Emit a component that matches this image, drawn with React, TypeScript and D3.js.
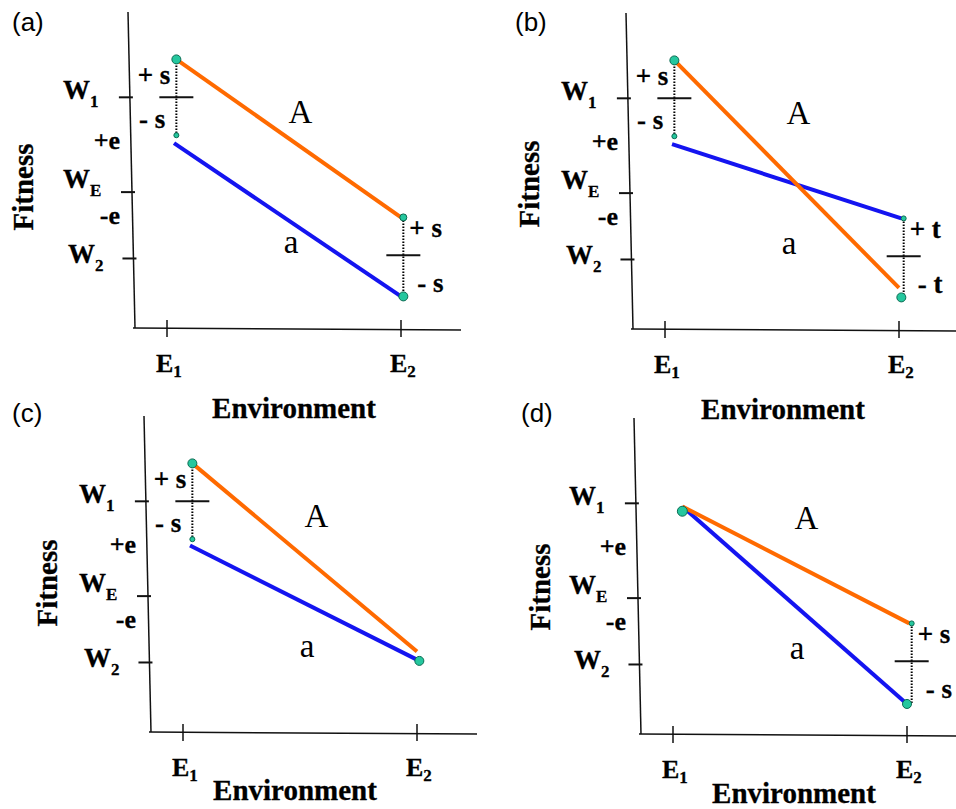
import React from "react";
import * as d3 from "d3";

// Values (fitness in arbitrary units 0..10, environment E1=1, E2=2)
const panelTags = ["(a)", "(b)", "(c)", "(d)"];

const envTicks = [
  { base: "E", sub: "1", value: 1 },
  { base: "E", sub: "2", value: 2 },
];

const fitnessTicks = [
  { base: "W", sub: "1", value: 7.3 },
  { base: "W", sub: "E", value: 4.3 },
  { base: "W", sub: "2", value: 2.2 },
];

const eLabels = [
  { text: "+e", value: 5.9 },
  { text: "-e", value: 3.5 },
];

const genotypeLabels = [
  { text: "A", env: 1.57, value: 6.5 },
  { text: "a", env: 1.53, value: 2.37 },
];

// genotype A (orange) and a (blue), one pair of end points per panel
const lineA = [
  [{ env: 1.04, w: 8.5 }, { env: 2.0, w: 3.5 }],
  [{ env: 1.04, w: 8.5 }, { env: 2.0, w: 1.3 }],
  [{ env: 1.04, w: 8.5 }, { env: 2.0, w: 2.55 }],
  [{ env: 1.04, w: 7.2 }, { env: 2.01, w: 3.5 }],
];

const linea = [
  [{ env: 1.03, w: 5.85 }, { env: 2.0, w: 1.0 }],
  [{ env: 1.03, w: 5.85 }, { env: 2.01, w: 3.5 }],
  [{ env: 1.03, w: 5.9 }, { env: 2.01, w: 2.25 }],
  [{ env: 1.04, w: 7.2 }, { env: 2.0, w: 0.95 }],
];

const dots = [
  [
    { env: 1.04, w: 8.5, kind: "big" },
    { env: 1.04, w: 6.1, kind: "small" },
    { env: 2.01, w: 3.5, kind: "mid" },
    { env: 2.01, w: 1.0, kind: "big" },
  ],
  [
    { env: 1.04, w: 8.5, kind: "big" },
    { env: 1.04, w: 6.1, kind: "small" },
    { env: 2.02, w: 3.5, kind: "small" },
    { env: 2.01, w: 1.0, kind: "big" },
  ],
  [
    { env: 1.04, w: 8.5, kind: "big" },
    { env: 1.04, w: 6.1, kind: "small" },
    { env: 2.01, w: 2.25, kind: "big" },
  ],
  [
    { env: 1.04, w: 7.05, kind: "large" },
    { env: 2.02, w: 3.5, kind: "small" },
    { env: 2.0, w: 0.95, kind: "big" },
  ],
];

// dotted +/- spreads around the mean
const spreads = [
  [
    { env: 1.04, hi: 8.5, lo: 6.1, mid: 7.3, sym: "s" },
    { env: 2.01, hi: 3.5, lo: 1.0, mid: 2.3, sym: "s" },
  ],
  [
    { env: 1.04, hi: 8.5, lo: 6.1, mid: 7.3, sym: "s" },
    { env: 2.02, hi: 3.5, lo: 1.0, mid: 2.3, sym: "t" },
  ],
  [{ env: 1.04, hi: 8.5, lo: 6.1, mid: 7.3, sym: "s" }],
  [{ env: 2.02, hi: 3.5, lo: 0.95, mid: 2.3, sym: "s" }],
];

// Layout
const W = 956;
const H = 809;
const SERIF = '"Liberation Serif", "Times New Roman", Times, serif';
const SANS = '"Liberation Sans", Arial, Helvetica, sans-serif';
const ORANGE = "#ff6a00";
const BLUE = "#1414f0";
const DOT_FILL = "#25c79e";
const DOT_STROKE = "#0b6b52";

const panelOrigins = [[0, 0], [498, 1], [16, 404], [506, 406]];
const tagPos = [[12, 31], [515, 31], [12, 422], [521, 422]];
const fitnessPos = [[33, 187], [41, 183], [41, 179], [44, 181]];
const envTitlePos = [[294, 418], [285, 418], [279, 396], [288, 397]];
const tickLabelShift = [2, -4, 5];
const tickLabelX = [63, 63, 68];
const dotR = { large: 5, big: 4.5, mid: 3.5, small: 2.5 };

const x = d3.scaleLinear().domain([1, 2]).range([167, 401]);
const y = d3.scaleLinear().domain([0, 10]).range([328, 12]);

// the y axis is drawn slightly slanted, as in the figure
const axisTopX = 128;
const axisBottomX = 135;
const axisXAt = (py: number) =>
  axisTopX + ((py - y(10)) / (y(0) - y(10))) * (axisBottomX - axisTopX);

const line = d3
  .line<{ env: number; w: number }>()
  .x((d) => x(d.env))
  .y((d) => y(d.w));

const boldText = {
  fontFamily: SERIF,
  fontWeight: "bold" as const,
  fill: "#000",
  stroke: "#000",
  strokeWidth: 0.3,
};

function Panel({ i }: { i: number }) {
  const [ox, oy] = panelOrigins[i];
  const [fx, fy] = fitnessPos[i];
  const [ex, ey] = envTitlePos[i];

  return (
    <g transform={`translate(${ox},${oy})`}>
      {/* axes */}
      <line x1={axisTopX} y1={y(10)} x2={axisBottomX} y2={y(0)} stroke="#111" strokeWidth={1.5} />
      <line x1={133} y1={y(0)} x2={461} y2={y(0) + 2} stroke="#111" strokeWidth={1.5} />

      {fitnessTicks.map((t, k) => {
        const py = y(t.value);
        const ax = axisXAt(py);
        return (
          <g key={t.sub}>
            <line x1={ax - 11} x2={ax + 3} y1={py} y2={py} stroke="#111" strokeWidth={2} />
            <text x={tickLabelX[k]} y={py + tickLabelShift[k]} fontSize={27} {...boldText}>
              {t.base}
              <tspan fontSize={17} dy={8}>{t.sub}</tspan>
            </text>
          </g>
        );
      })}

      {eLabels.map((e) => (
        <text key={e.text} x={120} y={y(e.value) + 7} textAnchor="end" fontSize={26} {...boldText}>
          {e.text}
        </text>
      ))}

      {envTicks.map((t) => (
        <g key={t.sub}>
          <line x1={x(t.value)} x2={x(t.value)} y1={y(0) - 8} y2={y(0) + 9} stroke="#111" strokeWidth={1.5} />
          <text x={x(t.value) - 11} y={372} fontSize={26} {...boldText}>
            {t.base}
            <tspan fontSize={17} dy={5}>{t.sub}</tspan>
          </text>
        </g>
      ))}

      <text
        transform={`translate(${fx},${fy}) rotate(-90)`}
        textAnchor="middle"
        fontSize={29}
        {...boldText}
      >
        Fitness
      </text>
      <text x={ex} y={ey} textAnchor="middle" fontSize={29} {...boldText}>
        Environment
      </text>

      {/* genotype lines */}
      <path d={line(linea[i]) ?? ""} stroke={BLUE} strokeWidth={4} fill="none" />
      <path d={line(lineA[i]) ?? ""} stroke={ORANGE} strokeWidth={4} fill="none" />

      {genotypeLabels.map((g) => (
        <text key={g.text} x={x(g.env)} y={y(g.value)} textAnchor="middle" fontFamily={SERIF} fontSize={33}>
          {g.text}
        </text>
      ))}

      {/* spreads */}
      {spreads[i].map((s, k) => {
        const sx = x(s.env);
        const my = y(s.mid);
        const left = s.env < 1.5;
        return (
          <g key={k}>
            <line x1={sx} x2={sx} y1={y(s.hi)} y2={y(s.lo)} stroke="#000" strokeWidth={2} strokeDasharray="1.5 1.5" />
            <line x1={sx - 17} x2={sx + 17} y1={my} y2={my} stroke="#111" strokeWidth={2} />
            <text
              x={left ? sx - 6 : sx + 6}
              y={left ? my - 13 : my - 18}
              textAnchor={left ? "end" : "start"}
              fontSize={27}
              {...boldText}
            >
              {`+ ${s.sym}`}
            </text>
            <text
              x={left ? sx - 11 : sx + 14}
              y={left ? my + 31 : my + 37}
              textAnchor={left ? "end" : "start"}
              fontSize={27}
              {...boldText}
            >
              {`- ${s.sym}`}
            </text>
          </g>
        );
      })}

      {dots[i].map((d, k) => (
        <circle
          key={k}
          cx={x(d.env)}
          cy={y(d.w)}
          r={dotR[d.kind as keyof typeof dotR]}
          fill={DOT_FILL}
          stroke={DOT_STROKE}
          strokeWidth={1}
        />
      ))}
    </g>
  );
}

export default function App() {
  return (
    <svg
      width={W}
      height={H}
      style={{ position: "absolute", left: 0, top: 0, background: "#fff" }}
    >
      <rect width={W} height={H} fill="#fff" />
      {panelTags.map((t, i) => (
        <g key={t}>
          <Panel i={i} />
          <text x={tagPos[i][0]} y={tagPos[i][1]} fontFamily={SANS} fontSize={26}>
            {t}
          </text>
        </g>
      ))}
    </svg>
  );
}
